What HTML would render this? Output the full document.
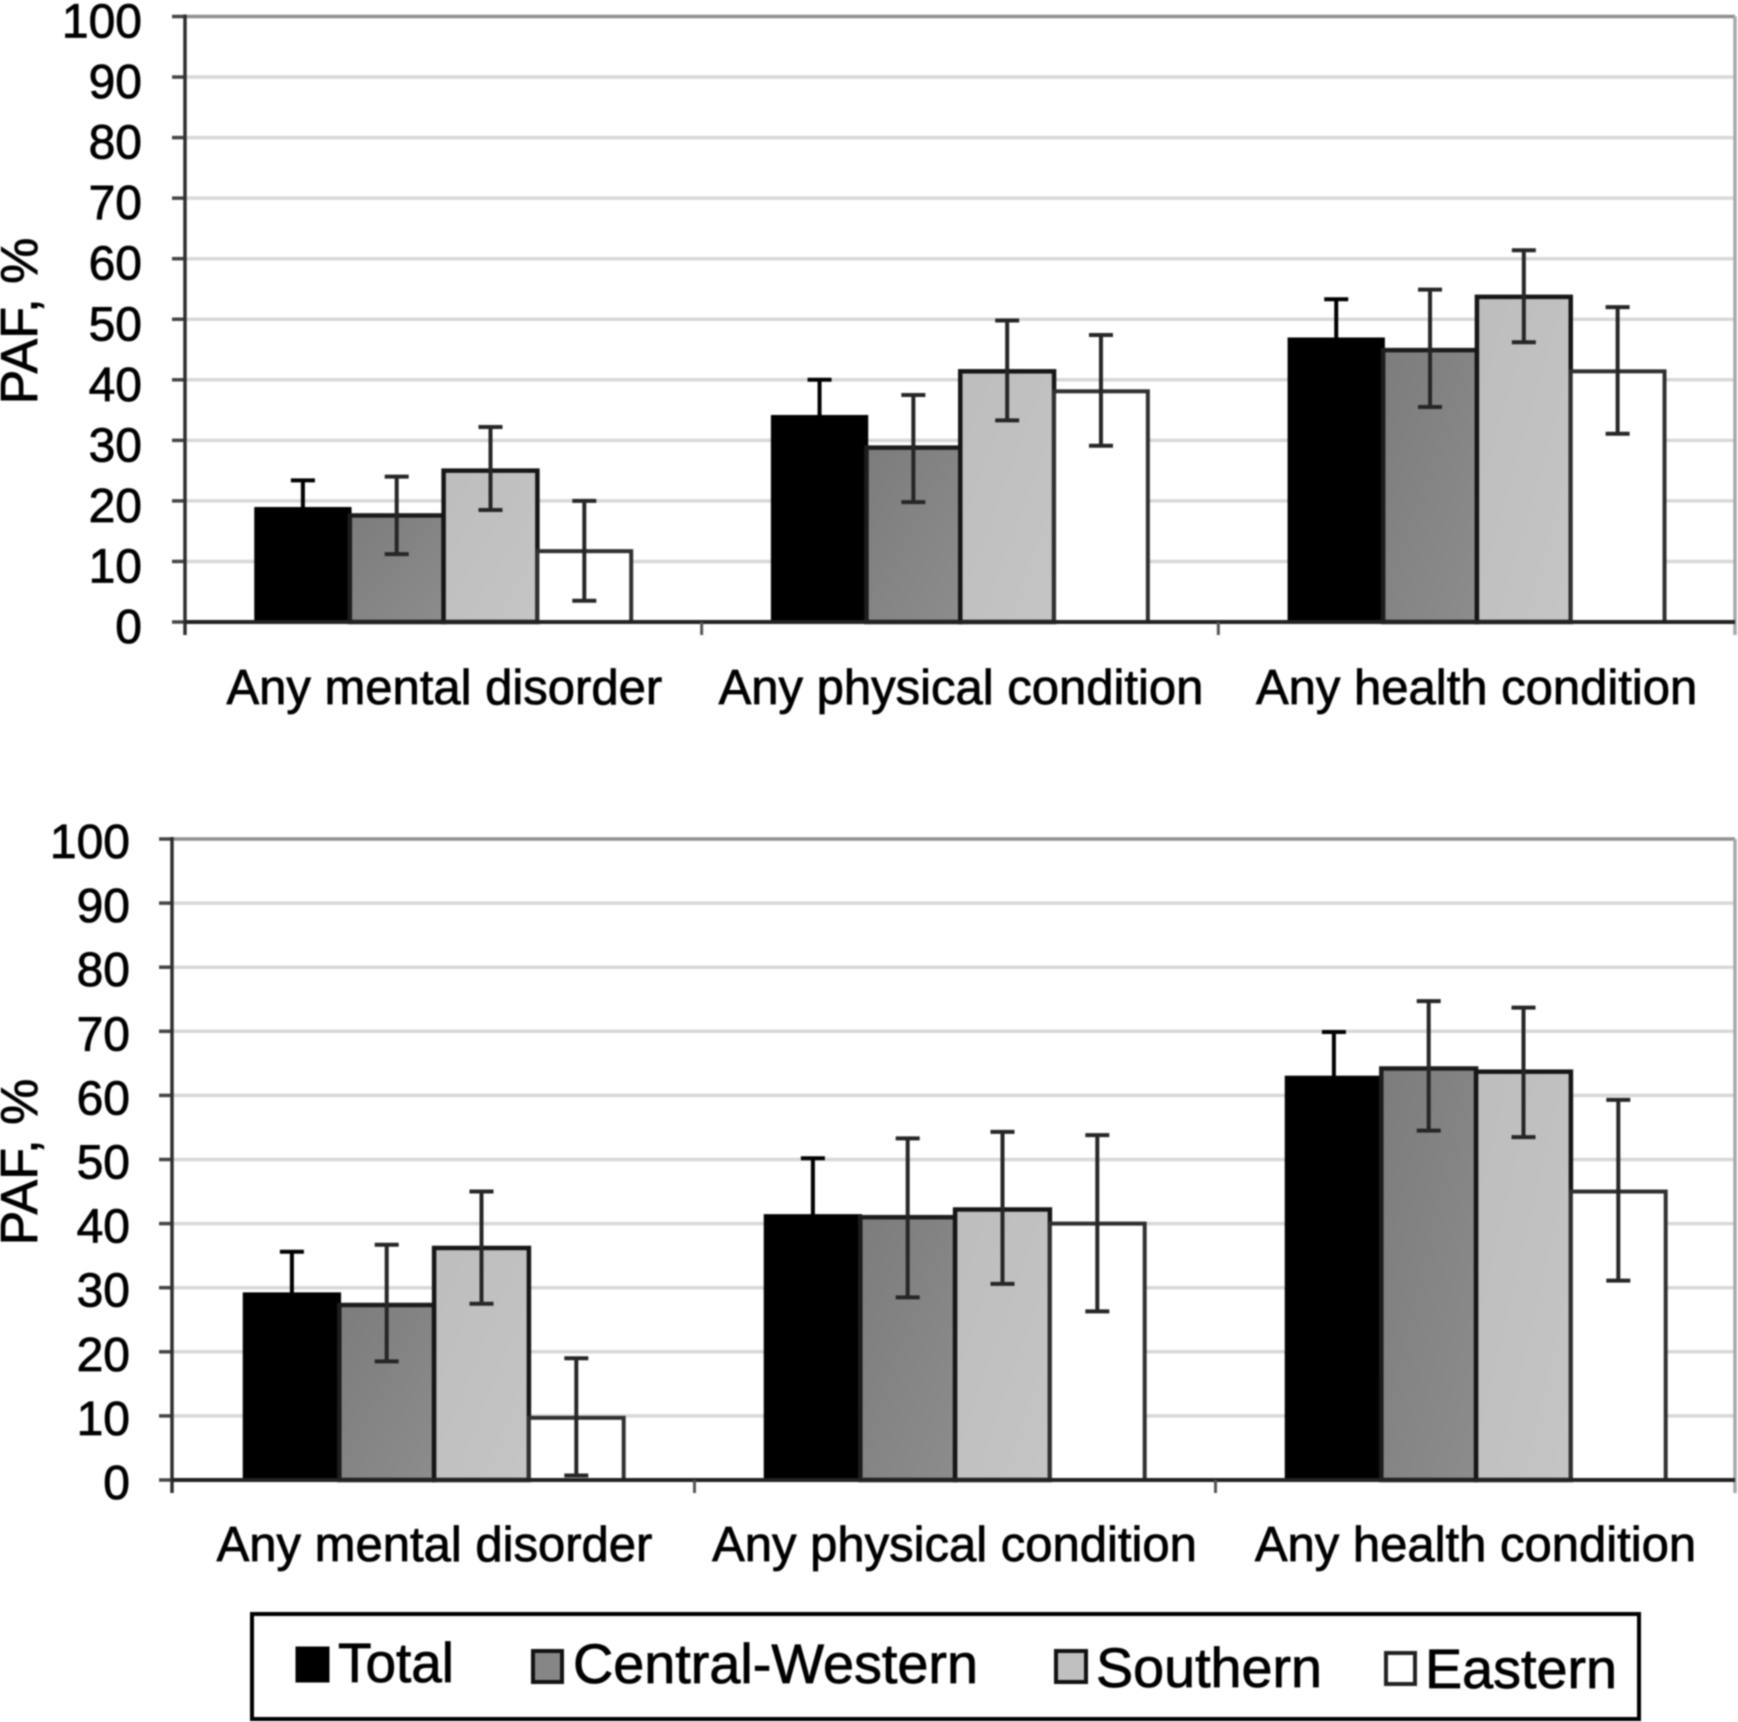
<!DOCTYPE html>
<html lang="en">
<head>
<meta charset="utf-8">
<title>PAF by region</title>
<style>
html,body{margin:0;padding:0;background:#fff;width:1738px;height:1722px;overflow:hidden}
svg{display:block;filter:blur(0.8px)}
text{font-family:"Liberation Sans",Arial,sans-serif;fill:#000;stroke:#000;stroke-width:0.8px}
</style>
</head>
<body>
<svg id="chart" xmlns="http://www.w3.org/2000/svg" width="1738" height="1722" viewBox="0 0 1738 1722">
  <defs>
    <linearGradient id="midGray" x1="0" y1="0" x2="1" y2="1">
      <stop offset="0" stop-color="#7c7c7c"/>
      <stop offset="1" stop-color="#8c8c8c"/>
    </linearGradient>
    <linearGradient id="lightGray" x1="0" y1="0" x2="1" y2="1">
      <stop offset="0" stop-color="#bdbdbd"/>
      <stop offset="1" stop-color="#c4c4c4"/>
    </linearGradient>
  </defs>
  <g id="panels"></g>
  <g>
    <rect x="252" y="1614" width="1387" height="105" fill="#fff" stroke="#000" stroke-width="4"/>
    <rect x="297" y="1648" width="31" height="33" fill="#000" stroke="#000" stroke-width="3"/>
    <text x="338" y="1682" font-size="56" textLength="116" lengthAdjust="spacingAndGlyphs">Total</text>
    <rect x="533" y="1651" width="29" height="31" fill="#868686" stroke="#111" stroke-width="4"/>
    <text x="573" y="1683" font-size="56" textLength="405" lengthAdjust="spacingAndGlyphs">Central-Western</text>
    <rect x="1056" y="1651" width="30" height="31" fill="#c0c0c0" stroke="#111" stroke-width="4"/>
    <text x="1096" y="1687" font-size="56" textLength="226" lengthAdjust="spacingAndGlyphs">Southern</text>
    <rect x="1386" y="1653" width="29" height="31" fill="#fff" stroke="#222" stroke-width="4"/>
    <text x="1425" y="1688" font-size="56" textLength="192" lengthAdjust="spacingAndGlyphs">Eastern</text>
  </g>
</svg>
<script>
// ---- chart data ----
const categories = ['Any mental disorder', 'Any physical condition', 'Any health condition'];
const seriesNames = ['Total', 'Central-Western', 'Southern', 'Eastern'];
const yTickLabels = [0, 10, 20, 30, 40, 50, 60, 70, 80, 90, 100];

// Upper panel: one array per series, one entry per category
const upperTotal = [18.7, 33.9, 46.7];
const upperCentralWestern = [17.6, 28.8, 44.9];
const upperSouthern = [25.0, 41.4, 53.7];
const upperEastern = [11.7, 38.1, 41.4];
const upperTotalHigh = [23.4, 40.0, 53.3];
const upperCentralWesternHigh = [24.0, 37.5, 54.9];
const upperSouthernHigh = [32.2, 49.8, 61.4];
const upperEasternHigh = [20.0, 47.4, 52.0];
const upperTotalLow = [14.0, 28.0, 40.0];
const upperCentralWesternLow = [11.2, 19.8, 35.5];
const upperSouthernLow = [18.5, 33.3, 46.2];
const upperEasternLow = [3.5, 29.1, 31.1];

// Lower panel
const lowerTotal = [29.0, 41.2, 62.8];
const lowerCentralWestern = [27.3, 41.0, 64.2];
const lowerSouthern = [36.2, 42.2, 63.7];
const lowerEastern = [9.7, 40.0, 45.0];
const lowerTotalHigh = [35.6, 50.2, 69.9];
const lowerCentralWesternHigh = [36.7, 53.3, 74.7];
const lowerSouthernHigh = [45.0, 54.3, 73.7];
const lowerEasternHigh = [19.0, 53.8, 59.3];
const lowerTotalLow = [22.0, 32.0, 55.0];
const lowerCentralWesternLow = [18.5, 28.5, 54.5];
const lowerSouthernLow = [27.5, 30.6, 53.5];
const lowerEasternLow = [0.7, 26.3, 31.1];

// ---- drawing ----
const SVG_NS = 'http://www.w3.org/2000/svg';
const root = document.getElementById('panels');
const fills = ['#000', 'url(#midGray)', 'url(#lightGray)', '#fff'];
const strokes = ['#000', '#1c1c1c', '#161616', '#303030'];
const barWidths = [3.5, 4.5, 4.5, 4];
const errorStrokes = ['#000', '#262626', '#262626', '#262626'];
const keys = ['total', 'central-western', 'southern', 'eastern'];

function make(tag, attrs, parent) {
  const n = document.createElementNS(SVG_NS, tag);
  Object.keys(attrs).forEach(function (k) { n.setAttribute(k, attrs[k]); });
  parent.appendChild(n);
  return n;
}

function drawPanel(cfg) {
  const g = make('g', {}, root);
  
  

  const yScale = function (v) { return cfg.y0 + (cfg.y100 - cfg.y0) * v / 100; };
  const band = (cfg.xR - cfg.xL) / categories.length;
  const xBand = function (i) { return cfg.xL + band * i; };
  const xBar = function (c, s) { return xBand(c) + cfg.groupOffset + s * cfg.barW; };

  // gridlines + y ticks + y labels
  yTickLabels.forEach(function (v) {
    const y = yScale(v);
    if (v > 0) {
      const grid = make('line', { x1: cfg.xL, x2: cfg.xR, y1: y, y2: y, stroke: v === 100 ? '#8f8f8f' : '#d8d8d8', 'stroke-width': 3.5 }, g);
      
      
    }
    const tick = make('line', { x1: cfg.xL - 13, x2: cfg.xL, y1: y, y2: y, stroke: '#444', 'stroke-width': 3.5 }, g);
    
    
    const label = make('text', { x: cfg.labelRight, y: y + cfg.labelDy, 'text-anchor': 'end', 'font-size': 48 }, g);
    
    
    label.textContent = v;
  });

  // right frame
  const frame = make('line', { x1: cfg.xR, x2: cfg.xR, y1: cfg.y100, y2: cfg.y0 + 13, stroke: '#a8a8a8', 'stroke-width': 3.5 }, g);
  
  

  // bars
  cfg.values.forEach(function (row, s) {
    row.forEach(function (v, c) {
      const bar = make('rect', {
        x: xBar(c, s), y: yScale(v), width: cfg.barW, height: cfg.y0 - yScale(v),
        fill: fills[s], stroke: strokes[s], 'stroke-width': barWidths[s]
      }, g);
      
      
    });
  });

  // axes
  const yAxis = make('line', { x1: cfg.xL, x2: cfg.xL, y1: cfg.y100 - 2, y2: cfg.y0 + 13, stroke: '#2e2e2e', 'stroke-width': 3.5 }, g);
  
  
  const xAxis = make('line', { x1: cfg.xL, x2: cfg.xR, y1: cfg.y0, y2: cfg.y0, stroke: '#222', 'stroke-width': 4 }, g);
  
  

  for (let i = 1; i < categories.length; i++) {
    const xt = make('line', { x1: xBand(i) + cfg.tickDx, x2: xBand(i) + cfg.tickDx, y1: cfg.y0, y2: cfg.y0 + 13, stroke: '#555', 'stroke-width': 3 }, g);
    
    
  }

  // error bars
  cfg.values.forEach(function (row, s) {
    row.forEach(function (v, c) {
      const cx = xBar(c, s) + cfg.barW / 2;
      const hi = yScale(cfg.high[s][c]);
      const lo = yScale(cfg.low[s][c]);
      const err = make('path', {
        d: 'M' + cx + ' ' + hi + 'V' + lo + 'M' + (cx - 12) + ' ' + hi + 'H' + (cx + 12) + 'M' + (cx - 12) + ' ' + lo + 'H' + (cx + 12),
        fill: 'none', stroke: errorStrokes[s], 'stroke-width': 4
      }, g);
      
      
    });
  });

  // category labels
  categories.forEach(function (name, i) {
    const t = make('text', { x: xBand(i) + band / 2 + cfg.catDx[i], y: cfg.catY, 'text-anchor': 'middle', 'font-size': 49 }, g);
    
    
    t.textContent = name;
  });

  // y title
  const title = make('text', { transform: 'translate(37 ' + cfg.titleY + ') rotate(-90)', 'text-anchor': 'middle', 'font-size': 52 }, g);
  
  
  title.textContent = 'PAF, %';
}

drawPanel({
  name: 'upper-panel',
  xL: 185, xR: 1735, y0: 622, y100: 16.5,
  groupOffset: 71, barW: 93.8, labelRight: 142, labelDy: 21, tickDx: 0,
  catY: 704, catDx: [1, 1, 0], titleY: 321,
  values: [upperTotal, upperCentralWestern, upperSouthern, upperEastern],
  high: [upperTotalHigh, upperCentralWesternHigh, upperSouthernHigh, upperEasternHigh],
  low: [upperTotalLow, upperCentralWesternLow, upperSouthernLow, upperEasternLow]
});

drawPanel({
  name: 'lower-panel',
  xL: 172, xR: 1735, y0: 1480, y100: 839,
  groupOffset: 72.5, barW: 94.8, labelRight: 130, labelDy: 19, tickDx: 1.5,
  catY: 1561, catDx: [2, 1, 1], titleY: 1162,
  values: [lowerTotal, lowerCentralWestern, lowerSouthern, lowerEastern],
  high: [lowerTotalHigh, lowerCentralWesternHigh, lowerSouthernHigh, lowerEasternHigh],
  low: [lowerTotalLow, lowerCentralWesternLow, lowerSouthernLow, lowerEasternLow]
});
</script>
</body>
</html>
